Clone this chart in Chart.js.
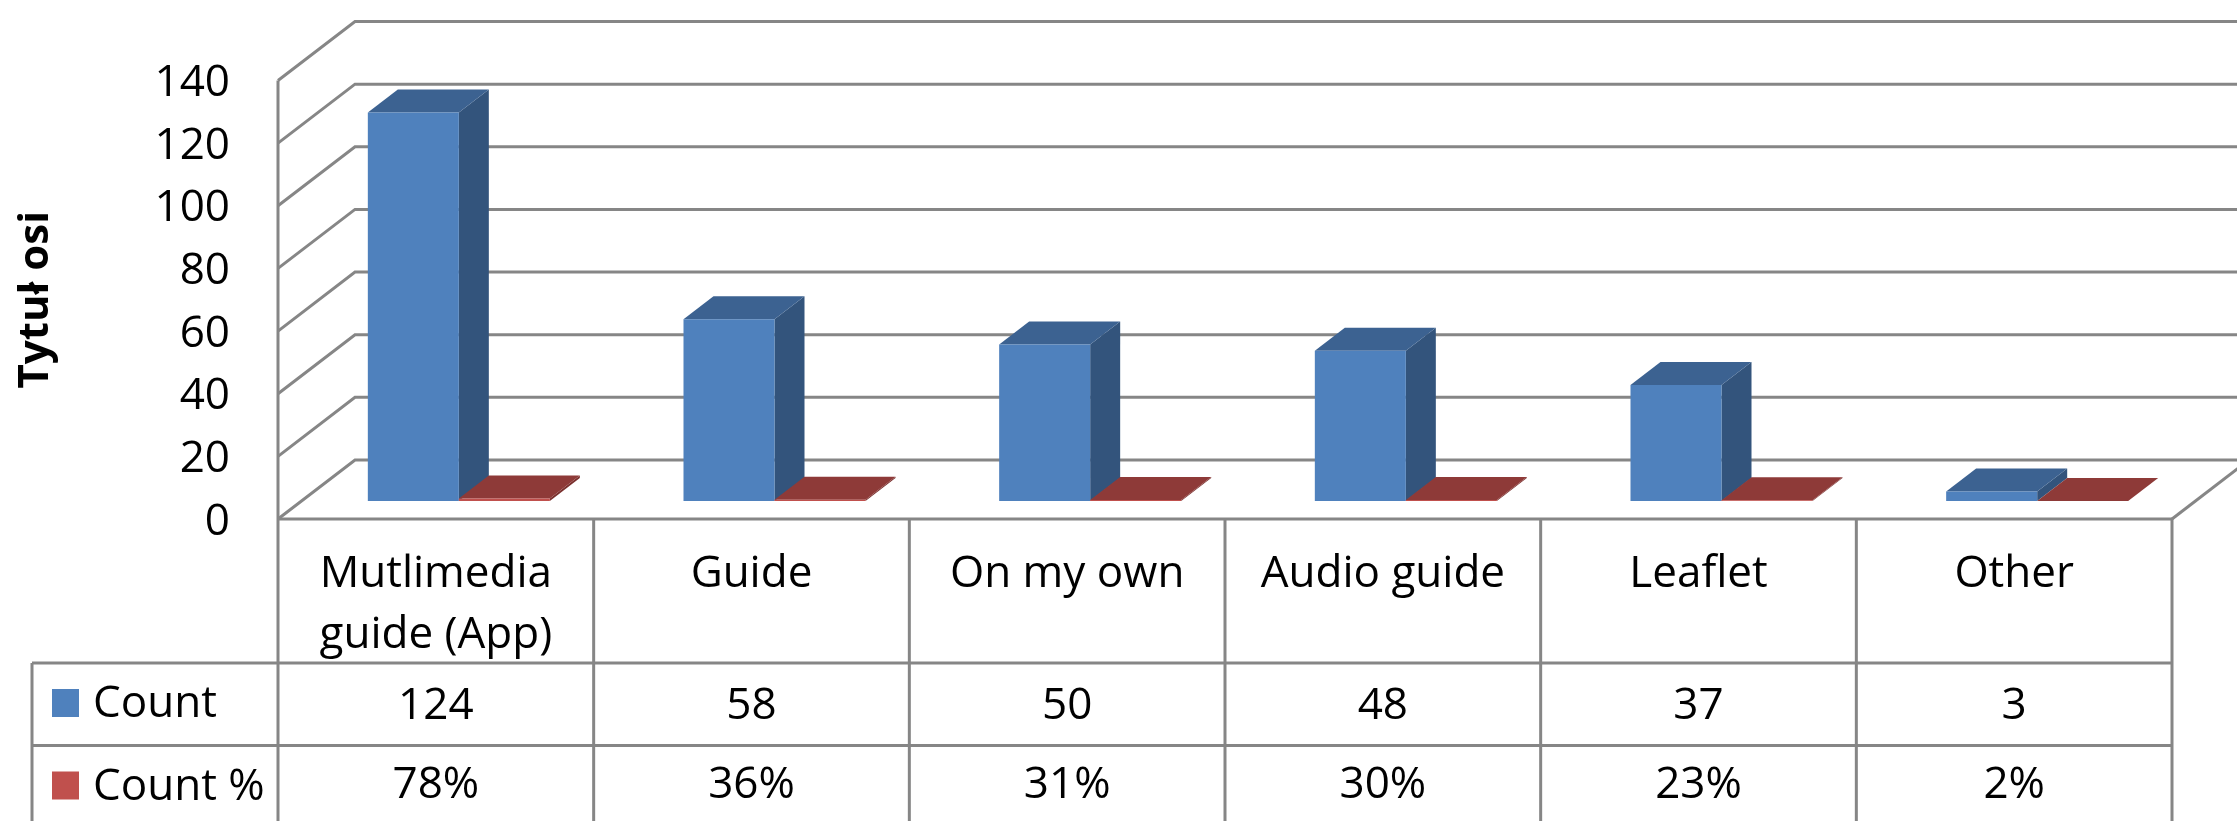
<!DOCTYPE html>
<html>
<head>
<meta charset="utf-8">
<title>Count / Count %</title>
<script src="https://cdn.jsdelivr.net/npm/chart.js@4.4.1/dist/chart.umd.min.js"></script>
<style>
  html, body { margin: 0; padding: 0; background: #ffffff; }
  #wrap { width: 2237px; height: 821px; }
</style>
</head>
<body>
<div id="wrap"><canvas id="chart" width="2237" height="821"></canvas></div>
<script>
// data
const categories = [['Mutlimedia', 'guide (App)'], 'Guide', 'On my own', 'Audio guide', 'Leaflet', 'Other']
const seriesNames = ['Count', 'Count %']
const countValues = [124, 58, 50, 48, 37, 3]
const countPercent = [0.78, 0.36, 0.31, 0.30, 0.23, 0.02]
const yMin = 0
const yMax = 140
const yStep = 20

const FONT = '"Open Sans", "Liberation Sans", sans-serif'
const GRID = '#868686'
const faces = [
  { front: '#4f81bd', top: '#3c6291', side: '#33547c' },
  { front: '#c0504d', top: '#8e3a38', side: '#7a302e' }
]
// fake 3D: offsets of the bar plane, bar depth and back wall from the front plane
const barShift = { x: 23, y: -18 }
const barDepth = { x: 30, y: -23 }
const wallDepth = { x: 77, y: -59 }

function poly (ctx, pts, color) {
  ctx.fillStyle = color
  ctx.beginPath()
  ctx.moveTo(pts[0][0], pts[0][1])
  for (let i = 1; i < pts.length; i++) ctx.lineTo(pts[i][0], pts[i][1])
  ctx.closePath()
  ctx.fill()
}

const threeD = {
  id: 'threeD',
  beforeDatasetsDraw (chart) {
    const { ctx, chartArea: area, scales: { y } } = chart
    ctx.save()
    ctx.strokeStyle = GRID
    ctx.lineWidth = 3

    // back wall gridlines and the side wall diagonals
    y.ticks.forEach(t => {
      const yf = y.getPixelForValue(t.value)
      const yb = yf + wallDepth.y
      ctx.beginPath()
      ctx.moveTo(area.left, yf)
      ctx.lineTo(area.left + wallDepth.x, yb)
      ctx.lineTo(area.right + wallDepth.x + 20, yb)
      ctx.stroke()
    })
    // floor, right edge
    const y0 = y.getPixelForValue(0)
    ctx.beginPath()
    ctx.moveTo(area.right, y0)
    ctx.lineTo(area.right + wallDepth.x, y0 + wallDepth.y)
    ctx.stroke()

    // boxes
    chart.data.datasets.forEach((ds, di) => {
      const f = faces[di]
      chart.getDatasetMeta(di).data.forEach(bar => {
        const x0 = bar.x - bar.width / 2 + barShift.x
        const x1 = bar.x + bar.width / 2 + barShift.x
        const yt = bar.y + barShift.y
        const yb = bar.base + barShift.y
        const dx = barDepth.x
        const dy = barDepth.y
        poly(ctx, [[x1, yt], [x1 + dx, yt + dy], [x1 + dx, yb + dy], [x1, yb]], f.side)
        poly(ctx, [[x0, yt], [x0 + dx, yt + dy], [x1 + dx, yt + dy], [x1, yt]], f.top)
        poly(ctx, [[x0, yt], [x1, yt], [x1, yb], [x0, yb]], f.front)
      })
    })
    ctx.restore()
    return false
  },
  afterDraw (chart) {
    const { ctx, chartArea: area, scales: { x, y } } = chart
    const half = (x.getPixelForValue(1) - x.getPixelForValue(0)) / 2
    const top = area.bottom
    const rowCat = top + 144
    const rowCount = rowCat + 82.5
    const bottom = chart.height + 10
    const legendLeft = 32

    ctx.save()
    ctx.strokeStyle = GRID
    ctx.lineWidth = 3
    ctx.beginPath()
    ctx.moveTo(area.left, top)
    ctx.lineTo(area.right, top)
    ctx.moveTo(legendLeft, rowCat)
    ctx.lineTo(area.right, rowCat)
    ctx.moveTo(legendLeft, rowCount)
    ctx.lineTo(area.right, rowCount)
    ctx.moveTo(legendLeft, rowCat)
    ctx.lineTo(legendLeft, bottom)
    ctx.moveTo(area.left, y.getPixelForValue(yMax))
    ctx.lineTo(area.left, bottom)
    categories.forEach((c, i) => {
      const xr = x.getPixelForValue(i) + half
      ctx.moveTo(xr, top)
      ctx.lineTo(xr, bottom)
    })
    ctx.stroke()

    ctx.fillStyle = '#000000'
    ctx.font = '44px ' + FONT
    ctx.textAlign = 'center'
    ctx.textBaseline = 'alphabetic'
    categories.forEach((c, i) => {
      const cx = x.getPixelForValue(i)
      const lines = Array.isArray(c) ? c : [c]
      lines.forEach((l, k) => ctx.fillText(l, cx, top + 68 + k * 61))
      ctx.fillText(String(countValues[i]), cx, rowCat + 56)
      ctx.fillText(Math.round(countPercent[i] * 100) + '%', cx, rowCount + 52.5)
    })

    // legend keys in the table
    const rows = [rowCat, rowCount]
    ctx.textAlign = 'left'
    seriesNames.forEach((name, i) => {
      ctx.fillStyle = faces[i].front
      ctx.fillRect(52, rows[i] + 26, 27, 28)
      ctx.fillStyle = '#000000'
      ctx.fillText(name, 93, rows[i] + 54)
    })
    ctx.restore()
  }
}

function draw () {
  new Chart(document.getElementById('chart').getContext('2d'), {
    type: 'bar',
    data: {
      labels: categories,
      datasets: [
        { label: seriesNames[0], data: countValues, backgroundColor: faces[0].front },
        { label: seriesNames[1], data: countPercent, backgroundColor: faces[1].front }
      ]
    },
    options: {
      responsive: false,
      animation: false,
      devicePixelRatio: 1,
      layout: { padding: { left: 0, right: 65, top: 80.5, bottom: 302 } },
      datasets: { bar: { categoryPercentage: 0.5766, barPercentage: 1 } },
      scales: {
        x: { display: false },
        y: {
          min: yMin,
          max: yMax,
          ticks: { stepSize: yStep, padding: 48, labelOffset: 3, color: '#000000', font: { family: FONT, size: 44 } },
          grid: { display: false, drawTicks: false },
          border: { display: false },
          title: {
            display: true,
            text: 'Tytuł osi',
            color: '#000000',
            font: { family: FONT, size: 42, weight: 'bold' },
            padding: { top: 11, bottom: 0 }
          },
          afterFit (scale) { scale.width = 278 }
        }
      },
      plugins: { legend: { display: false }, tooltip: { enabled: false } }
    },
    plugins: [threeD]
  })
}

Promise.all([
  document.fonts.load('44px "Open Sans"'),
  document.fonts.load('bold 42px "Open Sans"')
]).then(draw, draw)
</script>
</body>
</html>
